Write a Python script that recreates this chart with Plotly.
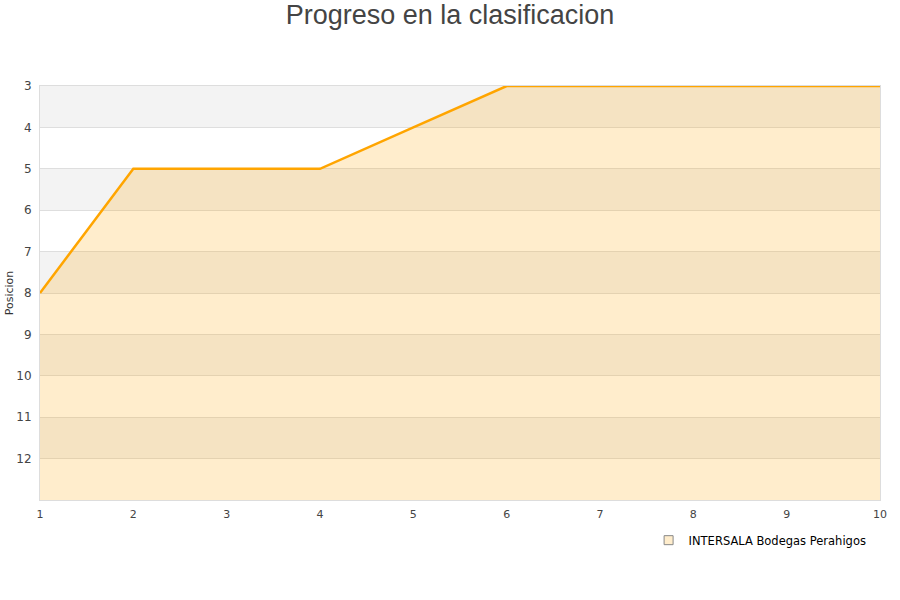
import plotly.graph_objects as go

jornadas = [1, 2, 3, 4, 5, 6, 7, 8, 9, 10]
posicion = [8, 5, 5, 5, 4, 3, 3, 3, 3, 3]
equipo = 'INTERSALA Bodegas Perahigos'
fondo = 13
ticks_y = [3, 4, 5, 6, 7, 8, 9, 10, 11, 12]

fig = go.Figure()

# linea base para rellenar hacia abajo (eje invertido)
fig.add_trace(go.Scatter(x=jornadas, y=[fondo] * len(jornadas), mode='lines',
                         line=dict(width=0), showlegend=False, hoverinfo='skip'))
fig.add_trace(go.Scatter(x=jornadas, y=posicion, mode='lines', fill='tonexty',
                         fillcolor='rgba(255,165,0,0.2)',
                         line=dict(color='#ffa500', width=2.5),
                         name=equipo, showlegend=False))
# entrada de leyenda
fig.add_trace(go.Scatter(x=[None], y=[None], mode='markers', name=equipo,
                         marker=dict(symbol='square', size=9, color='#ffedcc',
                                     line=dict(color='#888', width=1))))

# bandas de fondo alternas
shapes = []
for i in range(3, fondo, 2):
    shapes.append(dict(type='rect', xref='paper', yref='y', x0=0, x1=1, y0=i, y1=i + 1,
                       fillcolor='#f3f3f3', line=dict(width=0), layer='below'))

fig.update_layout(
    width=900, height=600,
    paper_bgcolor='white', plot_bgcolor='white',
    shapes=shapes,
    margin=dict(l=40, r=20, t=86, b=100, autoexpand=False),
    title=dict(text='Progreso en la clasificacion', x=0.5, xanchor='center', y=0.975, yanchor='middle',
               font=dict(family='Liberation Sans, Arial', size=27, color='#444')),
    font=dict(family='DejaVu Sans', size=11, color='#444'),
    xaxis=dict(range=[1, 10], tickvals=jornadas, showgrid=False, zeroline=False, automargin=False,
               showline=True, linecolor='#ddd', linewidth=1, mirror=True,
               ticks='', ticklabelstandoff=4, tickfont=dict(size=11, color='#444')),
    yaxis=dict(range=[fondo, 3], tickvals=ticks_y, showgrid=True, gridcolor='#dedede',
               zeroline=False, showline=True, linecolor='#ddd', mirror=True, automargin=False,
               ticks='', ticklabelstandoff=5, tickfont=dict(size=12, color='#444'),
               title=dict(text='Posicion', font=dict(size=11, color='#333'), standoff=0)),
    legend=dict(orientation='h', x=0.99, xanchor='right', y=-0.097, yanchor='middle',
                font=dict(family='DejaVu Sans', size=11.5, color='#000'),
                bgcolor='rgba(0,0,0,0)'),
)

fig.write_html('out.html', config={'displayModeBar': False},
               post_script="document.body.style.margin='0px';")
